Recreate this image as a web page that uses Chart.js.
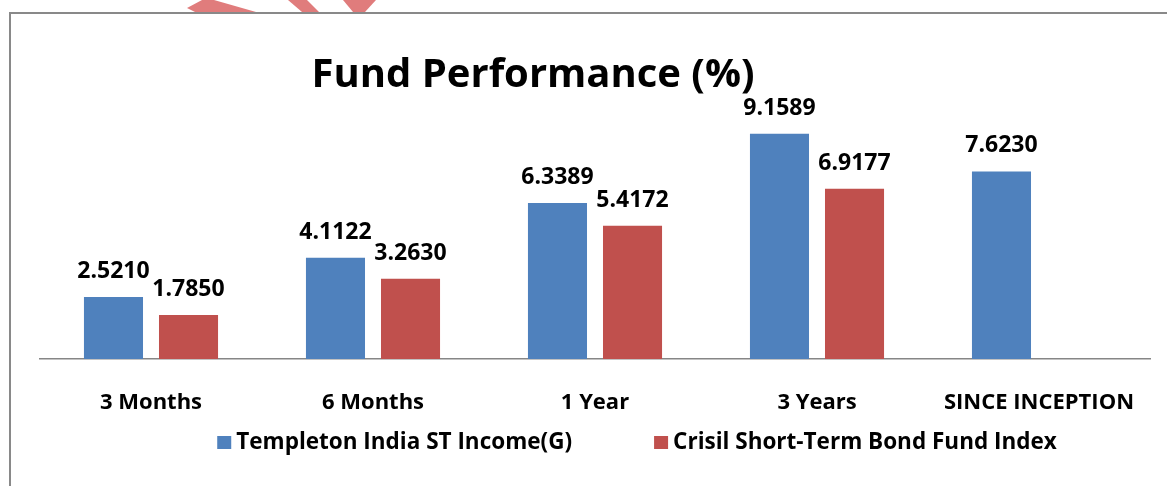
<!DOCTYPE html>
<html lang="en">
<head>
    <meta charset="UTF-8">
    <title>Fund Performance (%)</title>
    <script src="https://cdn.jsdelivr.net/npm/chart.js"></script>
    <style>
        body {
            margin: 0;
            background: #fff;
        }
        .chart-container {
            position: relative;
            width: 1167px;
            height: 486px;
        }
        .frame {
            position: absolute;
            left: 9px;
            top: 12px;
            right: 0;
            bottom: 0;
            border-left: 2px solid #898989;
            border-top: 2px solid #898989;
            pointer-events: none;
        }
        .stamp {
            position: absolute;
            left: 0;
            top: 0;
        }
    </style>
</head>
<body>
    <div class="chart-container">
        <canvas id="fundChart" width="1167" height="486"></canvas>
        <div class="frame"></div>
        <svg class="stamp" width="400" height="13">
            <polygon points="187,8 202,0 214,0 256,12 195,12" fill="#e07c7c"/>
            <polygon points="288,0 307,0 319,12 302,12" fill="#e07c7c"/>
            <polygon points="343,0 376,0 365,12 353,12" fill="#e07c7c"/>
        </svg>
    </div>

    <script>
        const periods = ['3 Months', '6 Months', '1 Year', '3 Years', 'SINCE INCEPTION'];
        const fundReturns = [2.5210, 4.1122, 6.3389, 9.1589, 7.6230];
        const indexReturns = [1.7850, 3.2630, 5.4172, 6.9177, null];
        const seriesNames = ['Templeton India ST Income(G)', 'Crisil Short-Term Bond Fund Index'];
        const seriesColors = ['#4f81bd', '#c0504d'];

        const FONT = '"Open Sans", Arial, sans-serif';

        // value labels above each bar, plus title and legend
        const decorations = {
            id: 'decorations',
            afterDatasetsDraw(chart) {
                const ctx = chart.ctx;
                ctx.save();
                ctx.fillStyle = '#000';
                ctx.font = 'bold 23px ' + FONT;
                ctx.textAlign = 'center';
                ctx.textBaseline = 'alphabetic';
                chart.data.datasets.forEach((ds, i) => {
                    chart.getDatasetMeta(i).data.forEach((bar, j) => {
                        const v = ds.data[j];
                        if (v == null) return;
                        ctx.fillText(v.toFixed(4), bar.x, bar.y - 19);
                    });
                });

                // title
                ctx.font = 'bold 40px ' + FONT;
                ctx.fillText('Fund Performance (%)', 533, 87);

                // legend
                ctx.font = 'bold 22.5px ' + FONT;
                ctx.textAlign = 'left';
                const widths = seriesNames.map(n => 14 + 5 + ctx.measureText(n).width);
                const gap = 82;
                const total = widths[0] + widths[1] + gap;
                let x = 637 - total / 2;
                seriesNames.forEach((name, i) => {
                    ctx.fillStyle = seriesColors[i];
                    ctx.fillRect(x, 436, 14, 13);
                    ctx.fillStyle = '#000';
                    ctx.fillText(name, x + 19, 449);
                    x += widths[i] + gap;
                });
                ctx.restore();
            }
        };

        new Chart(document.getElementById('fundChart'), {
            type: 'bar',
            data: {
                labels: periods,
                datasets: [
                    {
                        label: seriesNames[0],
                        data: fundReturns,
                        backgroundColor: seriesColors[0],
                        categoryPercentage: 0.676,
                        barPercentage: 0.787
                    },
                    {
                        label: seriesNames[1],
                        data: indexReturns,
                        backgroundColor: seriesColors[1],
                        categoryPercentage: 0.676,
                        barPercentage: 0.787
                    }
                ]
            },
            options: {
                responsive: false,
                animation: false,
                layout: {
                    padding: { left: 40, right: 17, top: 113, bottom: 0 }
                },
                plugins: {
                    legend: { display: false },
                    title: { display: false },
                    tooltip: { enabled: false }
                },
                scales: {
                    x: {
                        afterFit: scale => { scale.height = 127; },
                        grid: { display: false, drawTicks: false },
                        border: { display: true, color: '#868686', width: 1.5 },
                        ticks: {
                            padding: 31,
                            color: '#000',
                            font: { family: FONT, size: 22, weight: 'bold' }
                        }
                    },
                    y: {
                        display: false,
                        min: 0,
                        max: 10
                    }
                }
            },
            plugins: [decorations]
        });
    </script>
</body>
</html>
